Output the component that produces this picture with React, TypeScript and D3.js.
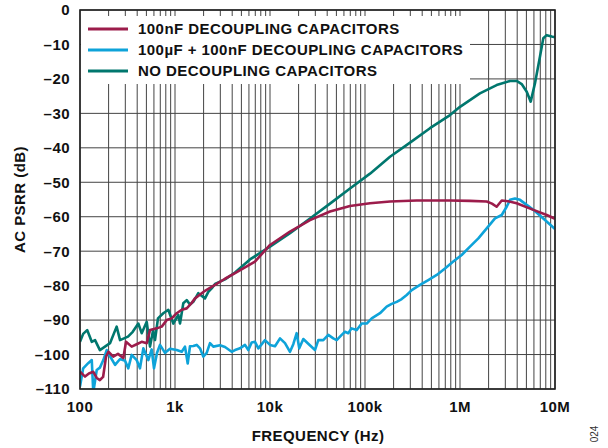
import React from 'react'
import * as d3 from 'd3'

const yTicks = [0, -10, -20, -30, -40, -50, -60, -70, -80, -90, -100, -110]
const xTickFreqs = [100, 1e3, 1e4, 1e5, 1e6, 1e7]
const xTickLabels = ['100', '1k', '10k', '100k', '1M', '10M']
const seriesNames = [
  '100nF DECOUPLING CAPACITORS',
  '100µF + 100nF DECOUPLING CAPACITORS',
  'NO DECOUPLING CAPACITORS',
]
const seriesColors = ['#9c1c4b', '#0ea3d9', '#00776e']

// 100nF decoupling
const nfFreq = [100, 113, 124, 138, 150, 162, 175, 188, 199, 224, 251, 286, 305, 350, 395, 446, 504, 546, 642, 725, 818, 923, 1042, 1177, 1328, 1500, 1624, 2069, 2637, 3360, 4283, 6950, 10000, 16238, 26367, 42813, 69519, 112884, 183298, 349945, 785000, 1270000, 1910000, 2170000, 2430000, 2750000, 3200000, 3950000, 5920000, 8180000, 10000000]
const nfDb = [-105, -106.4, -105.5, -105, -106.8, -107.4, -106.5, -100.6, -99.2, -100.6, -99.8, -101, -96.3, -97.7, -97, -96.3, -96.7, -92.9, -92.4, -91.9, -90, -89.5, -88, -87, -86.6, -85, -83.7, -81.5, -79.8, -78, -76.4, -73, -68.2, -64.3, -61, -58.5, -56.9, -56.1, -55.6, -55.3, -55.3, -55.4, -55.6, -56.2, -57.1, -55.3, -55.5, -56.1, -58, -59.5, -60.6]

// 100uF + 100nF decoupling
const ufFreq = [100, 108, 122, 133, 138, 150, 162, 176, 191, 207, 234, 264, 298, 322, 350, 395, 428, 464, 524, 568, 601, 647, 695, 785, 886, 1042, 1177, 1274, 1361, 1438, 1558, 1692, 1833, 1985, 2156, 2336, 2531, 2976, 3360, 3951, 4283, 4833, 5456, 5913, 6411, 6950, 7534, 8860, 10000, 11288, 12743, 14384, 16238, 17586, 19090, 20316, 22420, 25119, 29751, 32229, 36384, 41074, 46369, 50349, 56839, 61540, 66635, 72135, 81830, 92333, 104236, 117720, 143845, 169043, 190842, 215775, 243220, 274792, 310455, 379315, 463447, 568853, 695193, 849180, 1042000, 1274000, 1560000, 1910000, 2336000, 2750000, 3100000, 3360000, 3790000, 4280000, 5920000, 7530000, 10000000]
const ufDb = [-109.3, -104, -102.5, -101.6, -111, -104.5, -103.8, -101.6, -98.7, -100.5, -103, -101.3, -101.8, -104, -100.1, -101.6, -104, -98.2, -101.6, -98.5, -104, -99.5, -97.2, -99.5, -98.3, -98.7, -99.2, -97.7, -102.6, -97.6, -97.5, -97.2, -98.2, -100.6, -99.5, -96.7, -97.7, -97.3, -97.8, -99.2, -98.7, -98.2, -97.2, -98.7, -96.5, -96.3, -98.2, -95.8, -97.2, -97.6, -95.3, -96.7, -99.2, -97, -93.8, -98.2, -95.5, -96.8, -98.7, -95.8, -95.8, -94.3, -95.3, -95.8, -94.3, -93.4, -93.8, -92.4, -92.9, -91, -91, -89.5, -88, -86.1, -85.3, -84.7, -83.9, -82.7, -81.3, -79.8, -78.4, -76.9, -75, -73, -71.1, -68.7, -66.3, -63.4, -60.5, -59.5, -57.1, -55.1, -54.7, -55.1, -58, -60.5, -63.6]

// no decoupling
const noFreq = [100, 108, 119, 133, 144, 162, 207, 243, 264, 320, 359, 411, 446, 504, 546, 587, 616, 662, 753, 850, 960, 1083, 1129, 1223, 1328, 1438, 1558, 1759, 2069, 2243, 2433, 2637, 3360, 4283, 6155, 10000, 16238, 26367, 42813, 69519, 112884, 183298, 297852, 483059, 785000, 1000000, 1620000, 2430000, 3360000, 3950000, 4460000, 5040000, 5550000, 6150000, 6950000, 7530000, 8180000, 9230000, 10000000]
const noDb = [-96.3, -94, -92.9, -96.3, -95.8, -98.7, -96.7, -91.9, -95.8, -94.8, -93.4, -91, -93.8, -90.5, -97.7, -93, -95.8, -89.5, -88, -87, -91, -88.5, -91, -85.1, -84.2, -85.5, -84.7, -82.2, -83.7, -81.8, -80.8, -79.5, -78.2, -76.2, -72.4, -68.7, -64.8, -60.5, -56.2, -51.8, -47.5, -42.6, -38.5, -34.3, -30.5, -28.1, -24.2, -21.8, -20.6, -20.6, -21.5, -23.7, -26.6, -21.3, -13.5, -8.2, -7.3, -7.7, -7.9]

const W = 608
const H = 448
const left = 80
const right = 555
const top = 10
const bottom = 389
const font = "Arial, 'Liberation Sans', Helvetica, sans-serif"
const fs = 15
const ls = 0.45

export default function App() {
  const x = d3.scaleLog().domain([100, 1e7]).range([left, right])
  const y = d3.scaleLinear().domain([-110, 0]).range([bottom, top])

  const minorFreqs: number[] = []
  for (let dec = 100; dec < 1e7; dec *= 10) {
    for (let k = 2; k <= 9; k++) minorFreqs.push(dec * k)
  }

  const line = d3.line<[number, number]>().x(d => x(d[0])).y(d => y(d[1]))
  const series = [
    { freq: nfFreq, db: nfDb, color: seriesColors[0] },
    { freq: ufFreq, db: ufDb, color: seriesColors[1] },
    { freq: noFreq, db: noDb, color: seriesColors[2] },
  ]
  // draw order: teal first, red on top
  const order = [2, 1, 0]

  const gridColor = '#444'
  const txt = { fontSize: fs, fontWeight: 'bold' as const, fill: '#111', letterSpacing: ls }

  return (
    <svg width={W} height={H} style={{ position: 'absolute', left: 0, top: 0, background: '#fff' }} fontFamily={font}>
      <defs>
        <clipPath id="plot">
          <rect x={left} y={top} width={right - left} height={bottom - top} />
        </clipPath>
      </defs>
      {/* grid */}
      {yTicks.map(t => (
        <line key={'h' + t} x1={left} x2={right} y1={y(t)} y2={y(t)} stroke={gridColor} strokeWidth={1} />
      ))}
      {xTickFreqs.concat(minorFreqs).map(f => (
        <line key={'v' + f} x1={x(f)} x2={x(f)} y1={top} y2={bottom} stroke={gridColor} strokeWidth={1} />
      ))}

      {/* legend box */}
      <rect x={left + 1} y={16} width={470 - left - 1} height={68} fill="#fff" />
      {seriesNames.map((name, i) => (
        <g key={name}>
          <line x1={88} x2={128} y1={29 + i * 21} y2={29 + i * 21} stroke={seriesColors[i]} strokeWidth={3} />
          <text x={138} y={29 + i * 21} dy="0.36em" {...txt}>{name}</text>
        </g>
      ))}

      {/* data */}
      <g clipPath="url(#plot)">
        {order.map(i => {
          const s = series[i]
          const pts = s.freq.map((f, j) => [f, s.db[j]] as [number, number])
          return <path key={i} d={line(pts) || ''} fill="none" stroke={s.color} strokeWidth={2.6} strokeLinejoin="round" />
        })}
      </g>

      {/* frame */}
      <rect x={left} y={top} width={right - left} height={bottom - top} fill="none" stroke="#222" strokeWidth={1.6} />

      {/* y ticks */}
      {yTicks.map(t => (
        <text key={'yl' + t} x={70} y={y(t)} dy="0.36em" textAnchor="end" {...txt}>
          {t === 0 ? '0' : '–' + Math.abs(t)}
        </text>
      ))}
      {/* x ticks */}
      {xTickFreqs.map((f, i) => (
        <text key={'xl' + f} x={x(f)} y={407} dy="0.36em" textAnchor="middle" {...txt}>
          {xTickLabels[i]}
        </text>
      ))}

      <text x={318} y={436} dy="0.36em" textAnchor="middle" {...txt}>FREQUENCY (Hz)</text>
      <text transform={`translate(20,${(top + bottom) / 2}) rotate(-90)`} dy="0.36em" textAnchor="middle" {...txt}>AC PSRR (dB)</text>
      <text transform="translate(594,434) rotate(-90)" dy="0.36em" textAnchor="middle" fontSize={10} fill="#333">024</text>
    </svg>
  )
}
